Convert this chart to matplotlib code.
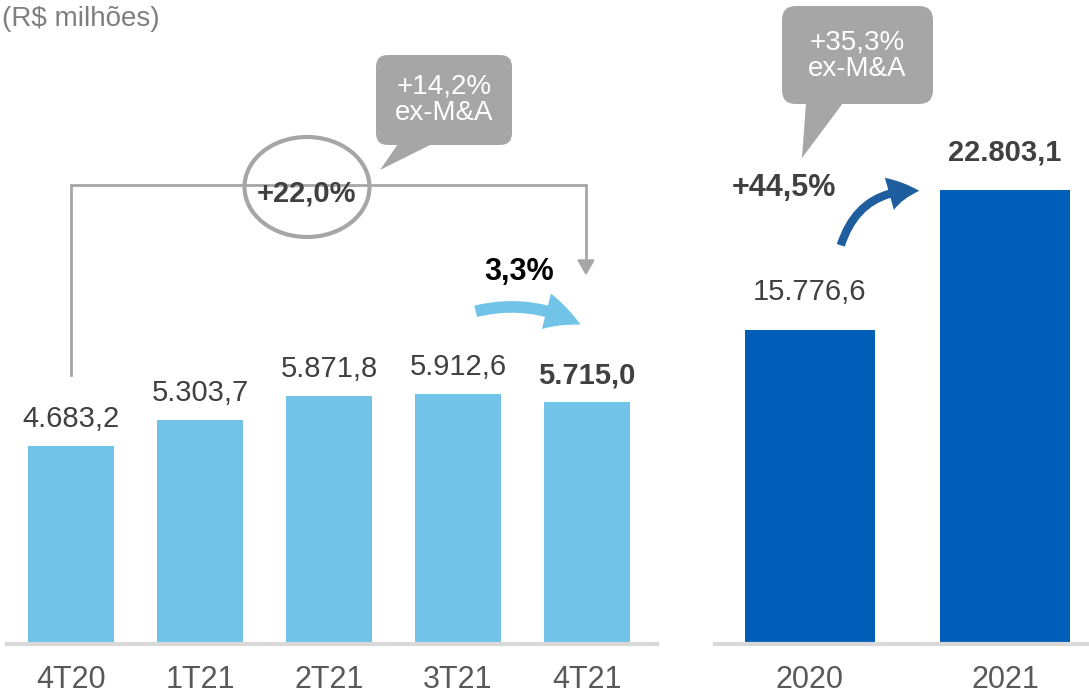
import matplotlib
matplotlib.use("Agg")
import matplotlib.pyplot as plt
import matplotlib.patches as patches
from matplotlib.patches import FancyBboxPatch, FancyArrowPatch, Ellipse, Polygon

plt.rcParams['font.family'] = ['Liberation Sans', 'DejaVu Sans']

# dados
trimestres = ["4T20", "1T21", "2T21", "3T21", "4T21"]
valores_tri = [4683.2, 5303.7, 5871.8, 5912.6, 5715.0]
rotulos_tri = ["4.683,2", "5.303,7", "5.871,8", "5.912,6", "5.715,0"]
anos = ["2020", "2021"]
valores_ano = [15776.6, 22803.1]
rotulos_ano = ["15.776,6", "22.803,1"]

AZUL_CLARO = '#71C4E8'
AZUL_ESCURO = '#005EB8'
CINZA = '#A6A6A6'
TEXTO = '#404040'
W, H = 1089, 693

fig = plt.figure(figsize=(W / 100, H / 100), dpi=100)


def eixo_px(x0, x1, y_base, y_top):
    return fig.add_axes([x0 / W, (H - y_base) / H, (x1 - x0) / W, (y_base - y_top) / H])


# eixo trimestral
ax1 = eixo_px(7, 657, 644, 0)
ax1.bar(range(len(trimestres)), valores_tri, width=0.667, color=AZUL_CLARO, zorder=2)
ax1.set_xlim(-0.496, 4.543)
ax1.set_ylim(0, 644 / 0.04228)

# eixo anual
ax2 = eixo_px(715, 1089, 644, 0)
ax2.bar(range(len(anos)), valores_ano, width=0.667, color=AZUL_ESCURO, zorder=2)
ax2.set_xlim(-0.487, 1.431)
ax2.set_ylim(0, 644 / 0.0199)

for ax, cats in ((ax1, trimestres), (ax2, anos)):
    for s in ('top', 'right', 'left'):
        ax.spines[s].set_visible(False)
    ax.spines['bottom'].set_color('#D9D9D9')
    ax.spines['bottom'].set_linewidth(3)
    ax.set_yticks([])
    ax.set_xticks(range(len(cats)))
    ax.set_xticklabels(cats, fontsize=22, color='#595959')
    ax.tick_params(axis='x', length=0, pad=15)
    ax.patch.set_alpha(0)

# rotulos das barras
for i, (v, r) in enumerate(zip(valores_tri, rotulos_tri)):
    peso = 'bold' if i == len(valores_tri) - 1 else 'normal'
    ax1.annotate(r, (i, v), xytext=(0, 27), textcoords='offset pixels',
                 ha='center', va='center', fontsize=21, color=TEXTO, fontweight=peso)
for i, (v, r) in enumerate(zip(valores_ano, rotulos_ano)):
    peso = 'bold' if i == 1 else 'normal'
    ax2.annotate(r, (i, v), xytext=(0, 38), textcoords='offset pixels',
                 ha='center', va='center', fontsize=21, color=TEXTO, fontweight=peso)

# camada de anotacoes em pixels
ov = fig.add_axes([0, 0, 1, 1], zorder=5)
ov.set_xlim(0, W)
ov.set_ylim(H, 0)
ov.axis('off')
ov.patch.set_alpha(0)

ov.text(160, 19, "(R$ milhões)", ha='right', va='center', fontsize=20, color='#7F7F7F')

# colchete 4T20 -> 4T21
ov.plot([71, 71, 586, 586], [375, 185, 185, 262], color=CINZA, lw=2, solid_joinstyle='miter')
ov.add_patch(Polygon([[578, 260], [594, 260], [586, 274]], closed=True, color=CINZA))
ov.add_patch(Ellipse((307, 187), 125, 100, facecolor='white', edgecolor=CINZA, lw=3))
ov.text(306, 193, "+22,0%", ha='center', va='center', fontsize=21, fontweight='bold', color=TEXTO)

# balao 1
ov.add_patch(FancyBboxPatch((376, 55), 136, 90, boxstyle="round,pad=0,rounding_size=12",
                            facecolor=CINZA, edgecolor='none'))
ov.add_patch(Polygon([[398, 144], [432, 144], [380, 170]], closed=True, color=CINZA, lw=0))
ov.text(444, 100, "+14,2%\nex-M&A", ha='center', va='center', fontsize=20, color='white',
        linespacing=1.05)

# balao 2
ov.add_patch(FancyBboxPatch((782, 6), 151, 98, boxstyle="round,pad=0,rounding_size=14",
                            facecolor=CINZA, edgecolor='none'))
ov.add_patch(Polygon([[806, 103], [843, 103], [802, 158]], closed=True, color=CINZA, lw=0))
ov.text(857, 56, "+35,3%\nex-M&A", ha='center', va='center', fontsize=20, color='white',
        linespacing=1.05)

# variacoes
ov.text(519, 272, "3,3%", ha='center', va='center', fontsize=22, fontweight='bold', color='black')
ov.text(784, 188, "+44,5%", ha='center', va='center', fontsize=22, fontweight='bold', color=TEXTO)

ov.add_patch(FancyArrowPatch((473, 312), (583, 326), connectionstyle="arc3,rad=-0.2",
                             arrowstyle="simple,head_width=2.2,head_length=2.2,tail_width=0.7",
                             mutation_scale=12, color=AZUL_CLARO, lw=0))
ov.add_patch(FancyArrowPatch((840, 248), (922, 191), connectionstyle="arc3,rad=-0.4",
                             arrowstyle="simple,head_width=2.0,head_length=1.8,tail_width=0.5",
                             mutation_scale=12, color='#1F5E9E', lw=0))

fig.savefig("out.png", dpi=100)
